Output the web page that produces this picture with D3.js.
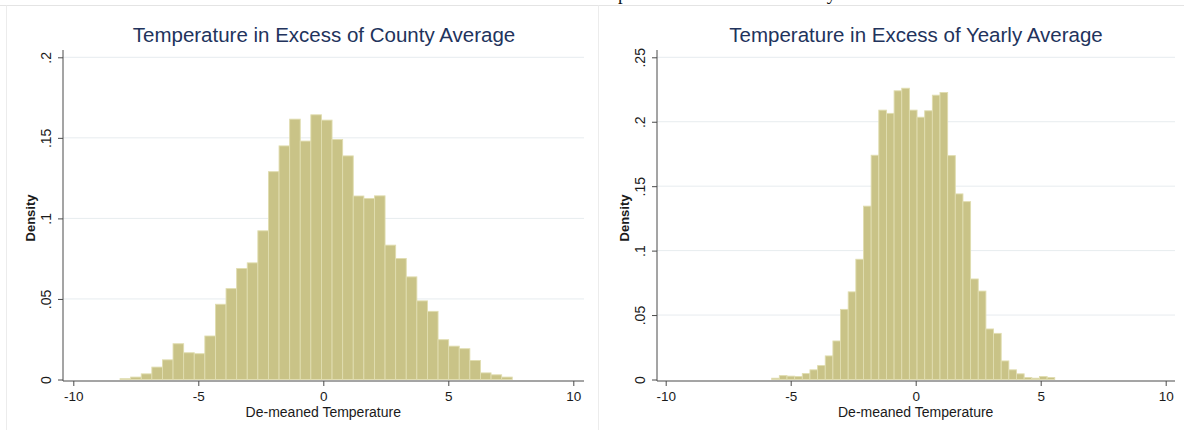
<!DOCTYPE html>
<html>
<head>
<meta charset="utf-8">
<script src="https://cdn.jsdelivr.net/npm/d3@7"></script>
<style>
    body { margin: 0; background: #fff; }
    svg { display: block; font-family: "Liberation Sans", Arial, sans-serif; }
</style>
</head>
<body>
<svg id="chart"></svg>
<script>
    // densities (37 bins each)
    let countyDensity = [0.0005, 0.0015, 0.0035, 0.0077, 0.0122, 0.0222, 0.0166, 0.016, 0.027, 0.0467,
        0.0564, 0.0689, 0.0724, 0.0923, 0.129, 0.145, 0.1616, 0.148, 0.1643, 0.161,
        0.149, 0.1388, 0.1139, 0.1124, 0.114, 0.0834, 0.0751, 0.0637, 0.0488, 0.0423,
        0.0247, 0.0207, 0.0191, 0.0118, 0.0041, 0.0029, 0.0015]
    let countyBinStart = -8.13
    let countyBinWidth = 0.424

    let yearlyDensity = [0.001, 0.003, 0.0026, 0.0023, 0.0046, 0.0075, 0.0108, 0.0183, 0.0299, 0.0544,
        0.068, 0.0933, 0.1345, 0.174, 0.209, 0.2065, 0.224, 0.226, 0.209, 0.2035,
        0.2085, 0.2206, 0.2227, 0.1737, 0.144, 0.138, 0.078, 0.0686, 0.0392, 0.0358,
        0.0144, 0.0075, 0.0044, 0.0015, 0.001, 0.0023, 0.0015]
    let yearlyBinStart = -5.76
    let yearlyBinWidth = 0.306

    let xTicks = [-10, -5, 0, 5, 10]
    let countyYTicks = [0, 0.05, 0.1, 0.15, 0.2]
    let yearlyYTicks = [0, 0.05, 0.1, 0.15, 0.2, 0.25]

    let titles = ["Temperature in Excess of County Average", "Temperature in Excess of Yearly Average"]
    let xTitle = "De-meaned Temperature"
    let yTitle = "Density"
    let captionAbove = "Temperature in Excess of County"

    let barFill = "#c9c387"
    let barEdge = "#e0ddb0"
    let titleColor = "#22335c"

    function getConfig() {
        let width = 1184
        let height = 430
        let container = d3.select("#chart")
        container.attr("width", width).attr("height", height)
        return {width, height, container}
    }

    function drawFrame(config) {
        let {container, width, height} = config
        // caption line of the surrounding document, only its descenders show
        container.append("text")
            .attr("x", 585)
            .attr("y", -0.5)
            .attr("font-family", "Liberation Serif, Times New Roman, serif")
            .attr("font-size", 18.8)
            .attr("fill", "#111")
            .text(captionAbove)
        container.append("line")
            .attr("x1", 0).attr("x2", width)
            .attr("y1", 5.5).attr("y2", 5.5)
            .attr("stroke", "#e4e4e4")
        ;[6.5, 598.5].forEach(x => {
            container.append("line")
                .attr("x1", x).attr("x2", x)
                .attr("y1", 5.5).attr("y2", height)
                .attr("stroke", "#ececec")
        })
    }

    function drawPanel(config, panel) {
        let {container} = config
        let xScale = d3.scaleLinear().domain([-10, 10]).range(panel.xRange)
        let yScale = d3.scaleLinear().domain([0, d3.max(panel.yTicks)]).range([379.5, 57.3])
        let body = container.append("g")

        // grid lines
        body.selectAll(".grid")
            .data(panel.yTicks.filter(d => d > 0))
            .enter()
            .append("line")
            .attr("x1", panel.axisX)
            .attr("x2", panel.plotRight)
            .attr("y1", d => yScale(d))
            .attr("y2", d => yScale(d))
            .attr("stroke", "#e7ecef")
            .attr("stroke-width", 1)

        // bars
        body.selectAll(".bar")
            .data(panel.density)
            .enter()
            .append("rect")
            .attr("x", (d, i) => xScale(panel.binStart + i * panel.binWidth))
            .attr("width", (d, i) => xScale(panel.binStart + (i + 1) * panel.binWidth) - xScale(panel.binStart + i * panel.binWidth))
            .attr("y", d => yScale(d))
            .attr("height", d => yScale(0) - yScale(d))
            .attr("fill", barFill)
            .attr("stroke", barEdge)
            .attr("stroke-width", 0.9)

        // axis lines
        body.append("line")
            .attr("x1", panel.axisX).attr("x2", panel.plotRight)
            .attr("y1", 381).attr("y2", 381)
            .attr("stroke", "#4a4a4a")
        body.append("line")
            .attr("x1", panel.axisX).attr("x2", panel.axisX)
            .attr("y1", 50).attr("y2", 381)
            .attr("stroke", "#4a4a4a")

        let axisX = d3.axisBottom(xScale)
            .tickValues(xTicks)
            .tickSize(5)
            .tickFormat(d => d)
        let gx = body.append("g")
            .attr("transform", `translate(0,381)`)
            .call(axisX)
        gx.select(".domain").remove()
        gx.selectAll("line").attr("stroke", "#4a4a4a")
        gx.selectAll("text")
            .attr("y", 20).attr("dy", 0)
            .attr("font-size", 13.5)
            .attr("font-family", "Liberation Sans, Arial, sans-serif")
            .attr("fill", "#1a1a1a")

        let axisY = d3.axisLeft(yScale)
            .tickValues(panel.yTicks)
            .tickSize(5)
            .tickFormat(d => d === 0 ? "0" : d3.format(".2~f")(d).replace(/^0/, ""))
        let gy = body.append("g")
            .attr("transform", `translate(${panel.axisX},0)`)
            .call(axisY)
        gy.select(".domain").remove()
        gy.selectAll("line").attr("stroke", "#4a4a4a")
        gy.selectAll("text")
            .attr("transform", "rotate(-90)")
            .attr("x", 0).attr("y", -12).attr("dy", 0)
            .attr("text-anchor", "middle")
            .attr("font-size", 14)
            .attr("font-family", "Liberation Sans, Arial, sans-serif")
            .attr("fill", "#1a1a1a")

        // titles
        body.append("text")
            .attr("x", panel.titleCenter)
            .attr("y", 41.7)
            .attr("text-anchor", "middle")
            .attr("font-size", 20.5)
            .attr("fill", titleColor)
            .text(panel.title)
        body.append("text")
            .attr("x", xScale(0))
            .attr("y", 416.5)
            .attr("text-anchor", "middle")
            .attr("font-size", 14)
            .attr("fill", "#1a1a1a")
            .text(xTitle)
        body.append("text")
            .attr("transform", `translate(${panel.axisX - 28},218) rotate(-90)`)
            .attr("text-anchor", "middle")
            .attr("font-size", 13)
            .attr("font-weight", "bold")
            .attr("fill", "#1a1a1a")
            .text(yTitle)
    }

    function showData() {
        let config = getConfig()
        drawFrame(config)
        drawPanel(config, {
            density: countyDensity,
            binStart: countyBinStart,
            binWidth: countyBinWidth,
            yTicks: countyYTicks,
            title: titles[0],
            titleCenter: 324,
            axisX: 63,
            plotRight: 584,
            xRange: [73.3, 573.3]
        })
        drawPanel(config, {
            density: yearlyDensity,
            binStart: yearlyBinStart,
            binWidth: yearlyBinWidth,
            yTicks: yearlyYTicks,
            title: titles[1],
            titleCenter: 916,
            axisX: 657,
            plotRight: 1175,
            xRange: [665.7, 1165.7]
        })
    }

    showData()
</script>
</body>
</html>
